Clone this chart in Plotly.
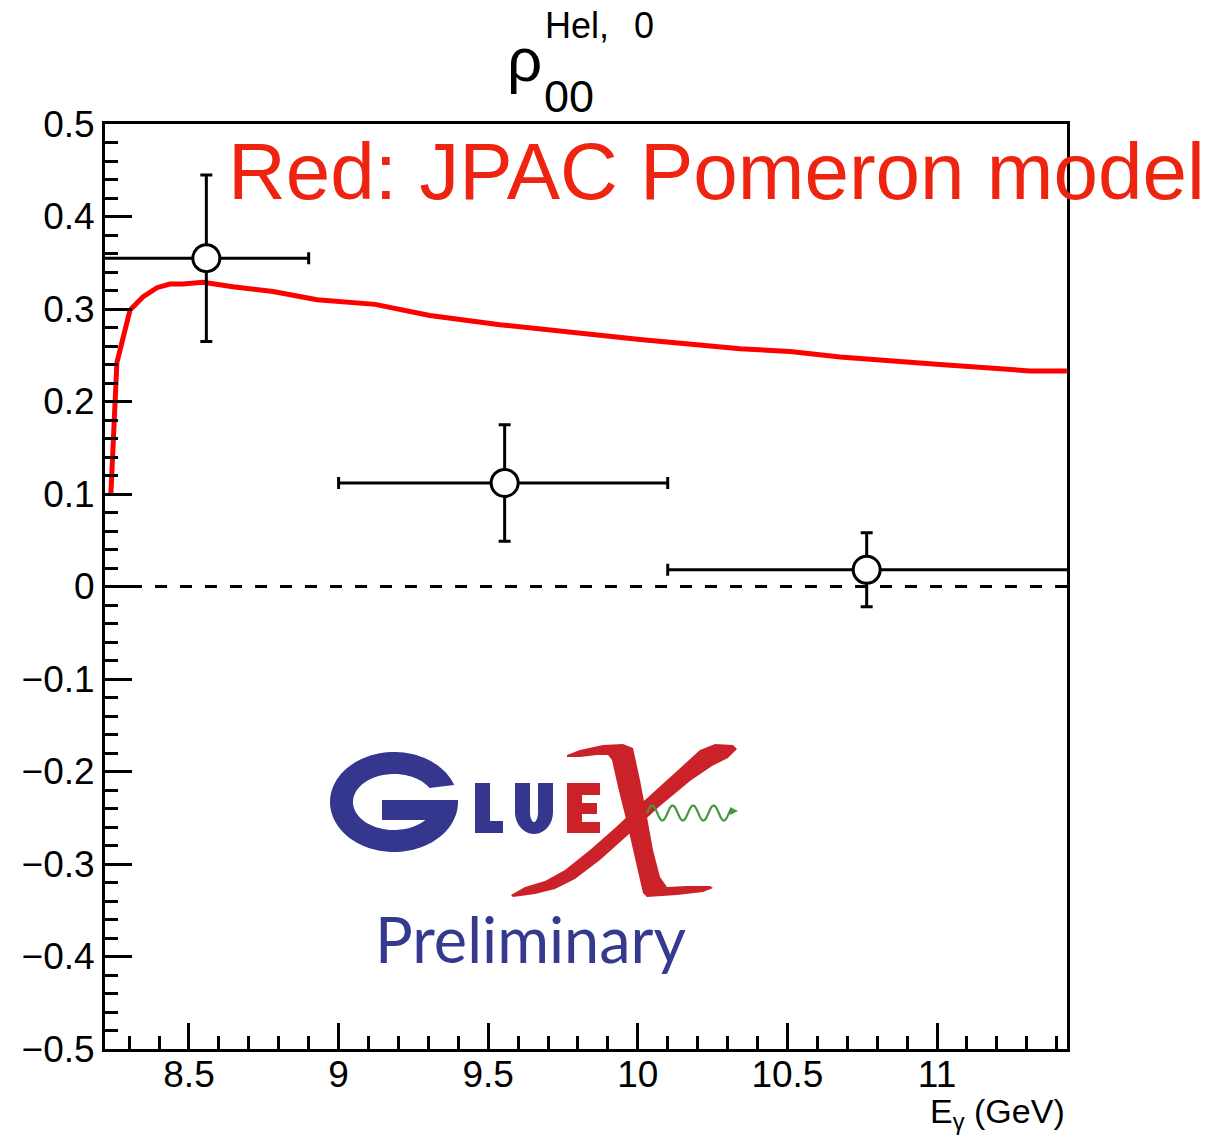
import numpy as np
import plotly.graph_objects as go

# ---- data -------------------------------------------------------------
# photon-energy bins and the measured spin-density matrix element
e_center = [8.558, 9.555, 10.765]
e_low = [8.20, 9.00, 10.10]
e_high = [8.90, 10.10, 11.44]
rho00 = [0.355, 0.112, 0.018]
rho00_err = [0.090, 0.063, 0.040]

# JPAC Pomeron model prediction
model_e = [8.239, 8.259, 8.303, 8.346, 8.393, 8.436, 8.480, 8.547, 8.647,
           8.781, 8.928, 9.005, 9.122, 9.305, 9.539, 10.007, 10.342,
           10.509, 10.676, 11.010, 11.311, 11.434]
model_rho = [0.100, 0.242, 0.299, 0.313, 0.323, 0.327, 0.327, 0.329, 0.324,
             0.319, 0.310, 0.308, 0.305, 0.293, 0.283, 0.267, 0.257,
             0.254, 0.248, 0.240, 0.233, 0.233]

# ---- canvas geometry --------------------------------------------------
W, H = 1215, 1138
L, R, T, B = 105, 1067, 124, 1049      # frame edges in pixels
X_RANGE = [8.2193, 11.4345]
Y_RANGE = [-0.5, 0.5]


def px(x):
    return (x - L) / (R - L)


def py(y):
    return (B - y) / (B - T)


def poly_path(pts):
    s = "M " + " L ".join(f"{px(x):.5f},{py(y):.5f}" for x, y in pts)
    return s + " Z"


def ell(cx, cy, a, b, t0, t1, n=60):
    t = np.radians(np.linspace(t0, t1, n))
    return list(zip(cx + a * np.cos(t), cy - b * np.sin(t)))


fig = go.Figure()

# model curve
fig.add_trace(go.Scatter(
    x=model_e, y=model_rho, mode="lines",
    line=dict(color="#ff0000", width=5), hoverinfo="skip", showlegend=False))

# measured points
fig.add_trace(go.Scatter(
    x=e_center, y=rho00, mode="markers",
    marker=dict(symbol="circle", size=27, color="white",
                line=dict(color="black", width=3)),
    error_x=dict(type="data", symmetric=False,
                 array=[h - c for h, c in zip(e_high, e_center)],
                 arrayminus=[c - l for c, l in zip(e_center, e_low)],
                 color="black", thickness=3, width=6),
    error_y=dict(type="data", array=rho00_err, color="black",
                 thickness=3, width=6),
    showlegend=False, hoverinfo="skip"))

shapes = []
# y = 0 reference line
shapes.append(dict(type="line", xref="paper", yref="y", x0=0, x1=1, y0=0, y1=0,
                   line=dict(color="black", width=3, dash="12px,13px"),
                   layer="below"))

# ---- GlueX logo -------------------------------------------------------
BLUE = "#34378d"
RED = "#cb2229"
GREEN = "#45983d"

# G
cx, cy, a, b, ai, bi = 394, 802, 64, 50, 41, 28
g_pts = ell(cx, cy, a, b, 20, 360, 90)
g_pts += [(458, 800), (382, 800), (382, 820)]
g_pts += ell(cx, cy, ai, bi, -40, -330, 80)
shapes.append(dict(type="path", xref="paper", yref="paper",
                   path=poly_path(g_pts), fillcolor=BLUE, line=dict(width=0)))
# L
l_pts = [(475, 783), (490, 783), (490, 821), (503, 821), (503, 833), (475, 833)]
shapes.append(dict(type="path", xref="paper", yref="paper",
                   path=poly_path(l_pts), fillcolor=BLUE, line=dict(width=0)))
# U
u_pts = [(515, 783), (515, 812)] + ell(534, 812, 19, 22, 180, 360, 40) + \
        [(553, 783), (538, 783), (538, 812)] + ell(534, 812, 4, 10, 360, 180, 20) + \
        [(530, 812), (530, 783)]
shapes.append(dict(type="path", xref="paper", yref="paper",
                   path=poly_path(u_pts), fillcolor=BLUE, line=dict(width=0)))
# E
e_pts = [(567, 783), (600, 783), (600, 795), (582, 795), (582, 803), (597, 803),
         (597, 814), (582, 814), (582, 822), (600, 822), (600, 833), (567, 833)]
shapes.append(dict(type="path", xref="paper", yref="paper",
                   path=poly_path(e_pts), fillcolor=RED, line=dict(width=0)))
# X : thin stroke (top right to bottom left, ending in a swash)
x_thin = [(700, 750), (677, 771), (645, 800), (615, 828), (590, 850),
          (565, 870), (545, 881), (525, 887), (511, 895), (513, 897),
          (535, 894), (555, 889), (575, 879), (600, 860), (628, 835),
          (660, 806), (690, 781), (712, 766), (728, 758), (737, 749),
          (733, 745), (715, 744)]
shapes.append(dict(type="path", xref="paper", yref="paper",
                   path=poly_path(x_thin), fillcolor=RED, line=dict(width=0)))
# X : thick stroke with serifs
x_thick = [(567, 755), (580, 750), (603, 745), (623, 744), (633, 748),
           (640, 780), (647, 817), (653, 850), (660, 877), (667, 887),
           (687, 886), (710, 886), (713, 888), (703, 892), (677, 895),
           (647, 897), (643, 893), (637, 867), (627, 823), (618, 787),
           (612, 760), (608, 755), (597, 755), (580, 757), (567, 757)]
shapes.append(dict(type="path", xref="paper", yref="paper",
                   path=poly_path(x_thick), fillcolor=RED, line=dict(width=0)))
# photon wave
wx = np.linspace(647, 731, 120)
wy = 813 - 7.5 * np.sin(2 * np.pi * (wx - 647) / 20.5)
wave = "M " + " L ".join(f"{px(x):.5f},{py(y):.5f}" for x, y in zip(wx, wy))
shapes.append(dict(type="path", xref="paper", yref="paper", path=wave,
                   line=dict(color=GREEN, width=2.2)))
shapes.append(dict(type="path", xref="paper", yref="paper",
                   path=poly_path([(730, 807), (738, 811), (730, 815)]),
                   fillcolor=GREEN, line=dict(width=0)))


def ann(text, x, baseline, size, color="black", family="Liberation Sans",
        xanchor="left"):
    mid = baseline - 0.3465 * size
    return dict(text=text, x=px(x), y=py(mid), xref="paper", yref="paper",
                xanchor=xanchor, yanchor="middle", showarrow=False,
                font=dict(size=size, color=color, family=family))


annotations = [
    ann("Red: JPAC Pomeron model", 226, 199, 80, color="#ee2411"),
    ann("ρ", 524, 81, 62, xanchor="center"),
    ann("Hel,", 543, 38, 36),
    ann("0", 632, 38, 36),
    ann("00", 542, 112, 45),
    ann("E<sub>γ</sub> (GeV)", 1067, 1125, 34, xanchor="right"),
    ann("Preliminary", 373, 960, 63, color="#353a8f", family="Lato"),
]

axis_common = dict(showline=True, mirror=True, linecolor="black", linewidth=3,
                   ticks="inside", tickcolor="black", tickwidth=2.5,
                   showgrid=False, zeroline=False,
                   tickfont=dict(family="Liberation Sans", size=37, color="black"))

fig.update_layout(
    width=W, height=H,
    margin=dict(l=L, r=W - R, t=T, b=H - B),
    paper_bgcolor="white", plot_bgcolor="white",
    xaxis=dict(range=X_RANGE, tickmode="linear", tick0=8.5, dtick=0.5,
               ticklen=26, ticklabelstandoff=-9,
               minor=dict(tick0=8.5, dtick=0.1, ticks="inside", ticklen=13,
                          tickwidth=2.5, tickcolor="black", showgrid=False),
               **axis_common),
    yaxis=dict(range=Y_RANGE, tickmode="linear", tick0=0, dtick=0.1,
               ticklen=27, ticklabelstandoff=0,
               minor=dict(tick0=0, dtick=0.02, ticks="inside", ticklen=13,
                          tickwidth=2.5, tickcolor="black", showgrid=False),
               **axis_common),
    shapes=shapes,
    annotations=annotations,
)

fig.write_html("out.html")
